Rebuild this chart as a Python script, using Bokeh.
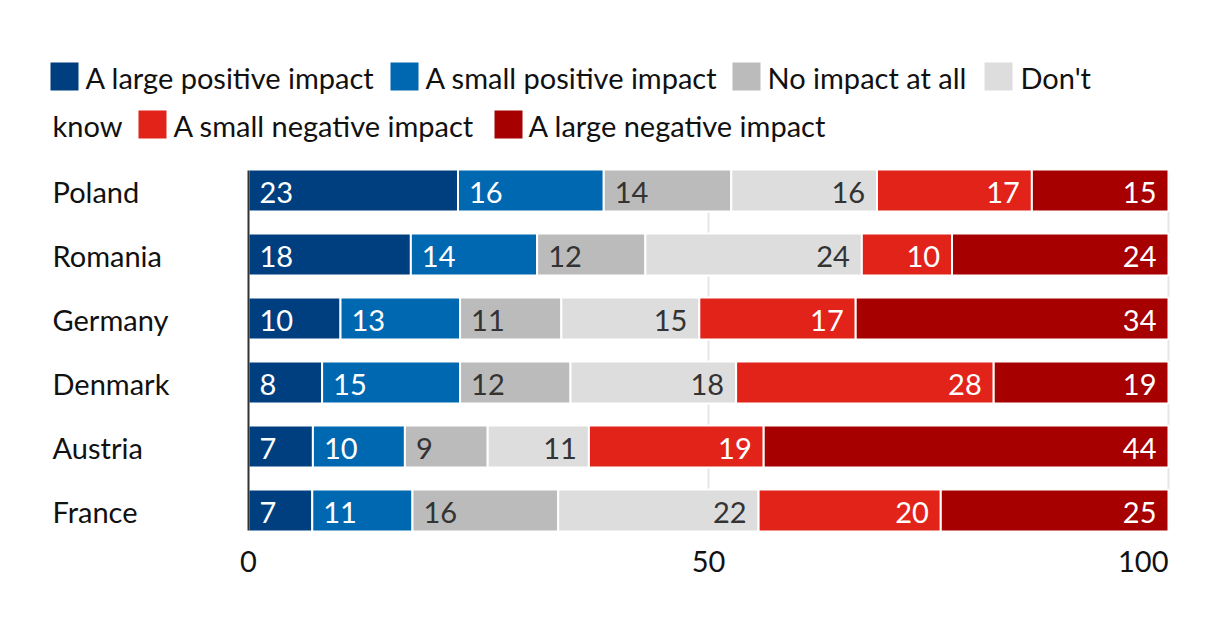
from bokeh.plotting import figure
from bokeh.models import ColumnDataSource, Range1d
from bokeh.core.properties import value
from bokeh.embed import file_html
from bokeh.resources import INLINE

# ---------------- data ----------------
countries = ["Poland", "Romania", "Germany", "Denmark", "Austria", "France"]
categories = ["A large positive impact", "A small positive impact", "No impact at all",
              "Don't know", "A small negative impact", "A large negative impact"]
large_pos = [23, 18, 10, 8, 7, 7]
small_pos = [16, 14, 13, 15, 10, 11]
no_impact = [14, 12, 11, 12, 9, 16]
dont_know = [16, 24, 15, 18, 11, 22]
small_neg = [17, 10, 17, 28, 19, 20]
large_neg = [15, 24, 34, 19, 44, 25]
x_ticks = [0, 50, 100]

series = [large_pos, small_pos, no_impact, dont_know, small_neg, large_neg]

# ---------------- style ----------------
colors = ["#003f7f", "#0068b0", "#bbbbbb", "#dddddd", "#e2231a", "#a60000"]
label_colors = ["white", "white", "#333333", "#333333", "white", "white"]
label_align = ["left", "left", "left", "right", "right", "right"]
FONT = value("Lato")
FS = "29px"

# ---------------- layout (pixels) ----------------
W, H = 1220, 630
X0 = 248          # pixel of value 0
PXU = 9.2         # pixels per percentage point
ROW0 = 190        # pixel centre of first row
ROWH = 64         # pixels between rows
BAR_PX = 42

def px_x(px):
    return (px - X0) / PXU

def px_y(py):
    return (py - ROW0) / ROWH

p = figure(width=W, height=H,
           x_range=Range1d(px_x(0), px_x(W)),
           y_range=Range1d(px_y(H), px_y(0)),
           output_backend="svg", toolbar_location=None,
           x_axis_location=None, y_axis_location=None,
           min_border=0, outline_line_color=None,
           background_fill_color="white", border_fill_color="white")
p.grid.visible = False

rows = list(range(len(countries)))
half = 20 / ROWH

# grid lines
p.segment(x0=x_ticks[1:], y0=[-half] * 2, x1=x_ticks[1:], y1=[rows[-1] + half] * 2,
          line_color="#e6e6e6", line_width=2)

# stacked, normalised bars
totals = [sum(s[i] for s in series) for i in rows]
cum = [0.0] * len(rows)
for k, s in enumerate(series):
    left = [cum[i] for i in rows]
    right = [cum[i] + s[i] / totals[i] * 100 for i in rows]
    cum = right
    src = ColumnDataSource(dict(y=rows, left=left, right=right,
                                lab=[str(v) for v in s]))
    p.hbar(y="y", left="left", right="right", height=BAR_PX / ROWH, source=src,
           fill_color=colors[k], line_color="white", line_width=2)
    if label_align[k] == "left":
        p.text(x="left", y="y", text="lab", source=src, x_offset=11, y_offset=2,
               text_align="left", text_baseline="middle", text_color=label_colors[k],
               text_font=FONT, text_font_size=FS)
    else:
        p.text(x="right", y="y", text="lab", source=src, x_offset=-12, y_offset=2,
               text_align="right", text_baseline="middle", text_color=label_colors[k],
               text_font=FONT, text_font_size=FS)

# zero line
p.segment(x0=[0], y0=[-half], x1=[0], y1=[rows[-1] + half], line_color="#333333", line_width=2)

# country labels
p.text(x=[0] * len(rows), y=rows, text=countries, x_offset=52 - X0, y_offset=1,
       text_align="left", text_baseline="middle", text_color="#111111",
       text_font=FONT, text_font_size=FS)

# x tick labels
for i, t in enumerate(x_ticks):
    p.text(x=[t], y=[rows[-1]], text=[str(t)], y_offset=51,
           text_align="right" if i == len(x_ticks) - 1 else "center",
           text_baseline="middle", text_color="#111111",
           text_font=FONT, text_font_size=FS)

# legend (flowing over two lines like the original)
leg_items = [  # (square left px, text left px, row, text, colour index)
    (50, 85, 76, categories[0], 0),
    (390, 425, 76, categories[1], 1),
    (732, 767, 76, categories[2], 2),
    (984, 1020, 76, "Don't", 3),
    (None, 52, 124, "know", None),
    (138, 173, 124, categories[4], 4),
    (494, 528, 124, categories[5], 5),
]
for sq, tx, ry, txt, ci in leg_items:
    if sq is not None:
        p.rect(x=[px_x(sq + 14)], y=[px_y(ry)], width=28, height=28,
               width_units="screen", height_units="screen",
               fill_color=colors[ci], line_color=None)
    p.text(x=[px_x(tx)], y=[px_y(ry)], text=[txt], y_offset=1,
           text_align="left", text_baseline="middle", text_color="#111111",
           text_font=FONT, text_font_size=FS)

open("out.html", "w").write(file_html(p, INLINE))
